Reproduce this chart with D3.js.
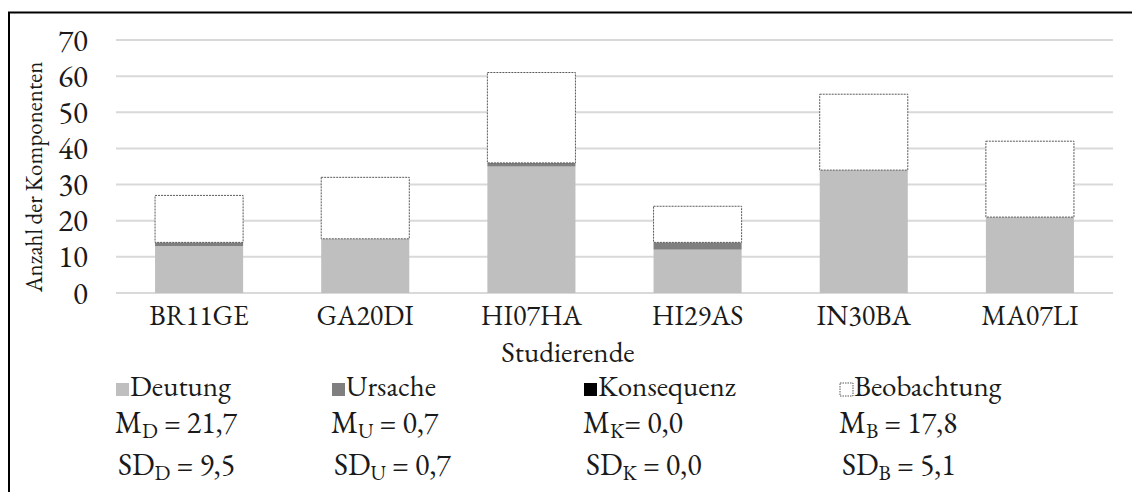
<!DOCTYPE html>
<html><head><meta charset="utf-8">
<script src="https://cdn.jsdelivr.net/npm/d3@7"></script>
<style>body{margin:0;background:#fff}svg{display:block}</style>
</head><body>
<script>
const categories = ["BR11GE","GA20DI","HI07HA","HI29AS","IN30BA","MA07LI"];
const seriesNames = ["Deutung","Ursache","Konsequenz","Beobachtung"];
const deutung     = [13,15,35,12,34,21];
const ursache     = [1,0,1,2,0,0];
const konsequenz  = [0,0,0,0,0,0];
const beobachtung = [13,17,25,10,21,21];
const yTicks = [0,10,20,30,40,50,60,70];
const statLetters = ["D","U","K","B"];
const means = ["21,7","0,7","0,0","17,8"];
const sds   = ["9,5","0,7","0,0","5,1"];
const colors = ["#bfbfbf","#7f7f7f","#000000","#ffffff"];

const W=1132,H=492;
const FONT='"EB Garamond", "Liberation Serif", serif';
const svg=d3.select("body").append("svg").attr("width",W).attr("height",H);
svg.append("rect").attr("x",9).attr("y",12.5).attr("width",1130).attr("height",500)
  .attr("fill","none").attr("stroke","#000").attr("stroke-width",2);

const x=d3.scaleBand().domain(categories).range([116,1113]).paddingInner(0.47).paddingOuter(0.235);
const y=d3.scaleLinear().domain([0,70]).range([293,40]);

svg.append("g").selectAll("line").data(yTicks).join("line")
  .attr("x1",116).attr("x2",1113).attr("y1",d=>y(d)).attr("y2",d=>y(d))
  .attr("stroke","#d9d9d9").attr("stroke-width",2);

const table=categories.map((c,i)=>({cat:c,Deutung:deutung[i],Ursache:ursache[i],Konsequenz:konsequenz[i],Beobachtung:beobachtung[i]}));
const stacked=d3.stack().keys(seriesNames)(table);
stacked.forEach((s,si)=>{
  svg.append("g").selectAll("rect").data(s.filter(d=>d[1]-d[0]>0)).join("rect")
    .attr("x",d=>x(d.data.cat)).attr("width",x.bandwidth())
    .attr("y",d=>y(d[1])).attr("height",d=>y(d[0])-y(d[1]))
    .attr("fill",colors[si])
    .attr("stroke",si===3?"#595959":"none")
    .attr("stroke-width",si===3?1:0)
    .attr("stroke-dasharray",si===3?"2,1":null);
});

const T=(sel,size)=>sel.style("font-family",FONT).style("font-size",size+"px").style("fill","#1a1a1a");

T(svg.append("g").selectAll("text").data(yTicks).join("text")
  .attr("x",88).attr("y",d=>y(d)).attr("dy","0.34em").attr("text-anchor","end").text(d=>d),31);

T(svg.append("g").selectAll("text").data(categories).join("text")
  .attr("x",d=>x(d)+x.bandwidth()/2).attr("y",325).attr("text-anchor","middle").text(d=>d),28);
T(svg.append("text").attr("x",568).attr("y",362).attr("text-anchor","middle").text("Studierende"),29);
T(svg.append("text").attr("transform","translate(42,177) rotate(-90)").attr("text-anchor","middle").text("Anzahl der Komponenten"),23);

const colX=[116,332,584,840];
seriesNames.forEach((n,i)=>{
  const g=svg.append("g");
  g.append("rect").attr("x",colX[i]).attr("y",383).attr("width",13).attr("height",13)
    .attr("fill",colors[i]).attr("stroke",i===3?"#595959":"none").attr("stroke-width",i===3?1:0)
    .attr("stroke-dasharray",i===3?"1.5,1":null);
  T(g.append("text").attr("x",colX[i]+14).attr("y",396).text(n),29);
  const m=T(g.append("text").attr("x",colX[i]-1).attr("y",433),30);
  m.append("tspan").text("M");
  m.append("tspan").style("font-size","21px").attr("dy",5).text(statLetters[i]);
  m.append("tspan").attr("dy",-5).text((i===2?"= ":" = ")+means[i]);
  const s=T(g.append("text").attr("x",colX[i]+2).attr("y",475),30);
  s.append("tspan").text("SD");
  s.append("tspan").style("font-size","21px").attr("dy",5).text(statLetters[i]);
  s.append("tspan").attr("dy",-5).text(" = "+sds[i]);
});
</script>
</body></html>
